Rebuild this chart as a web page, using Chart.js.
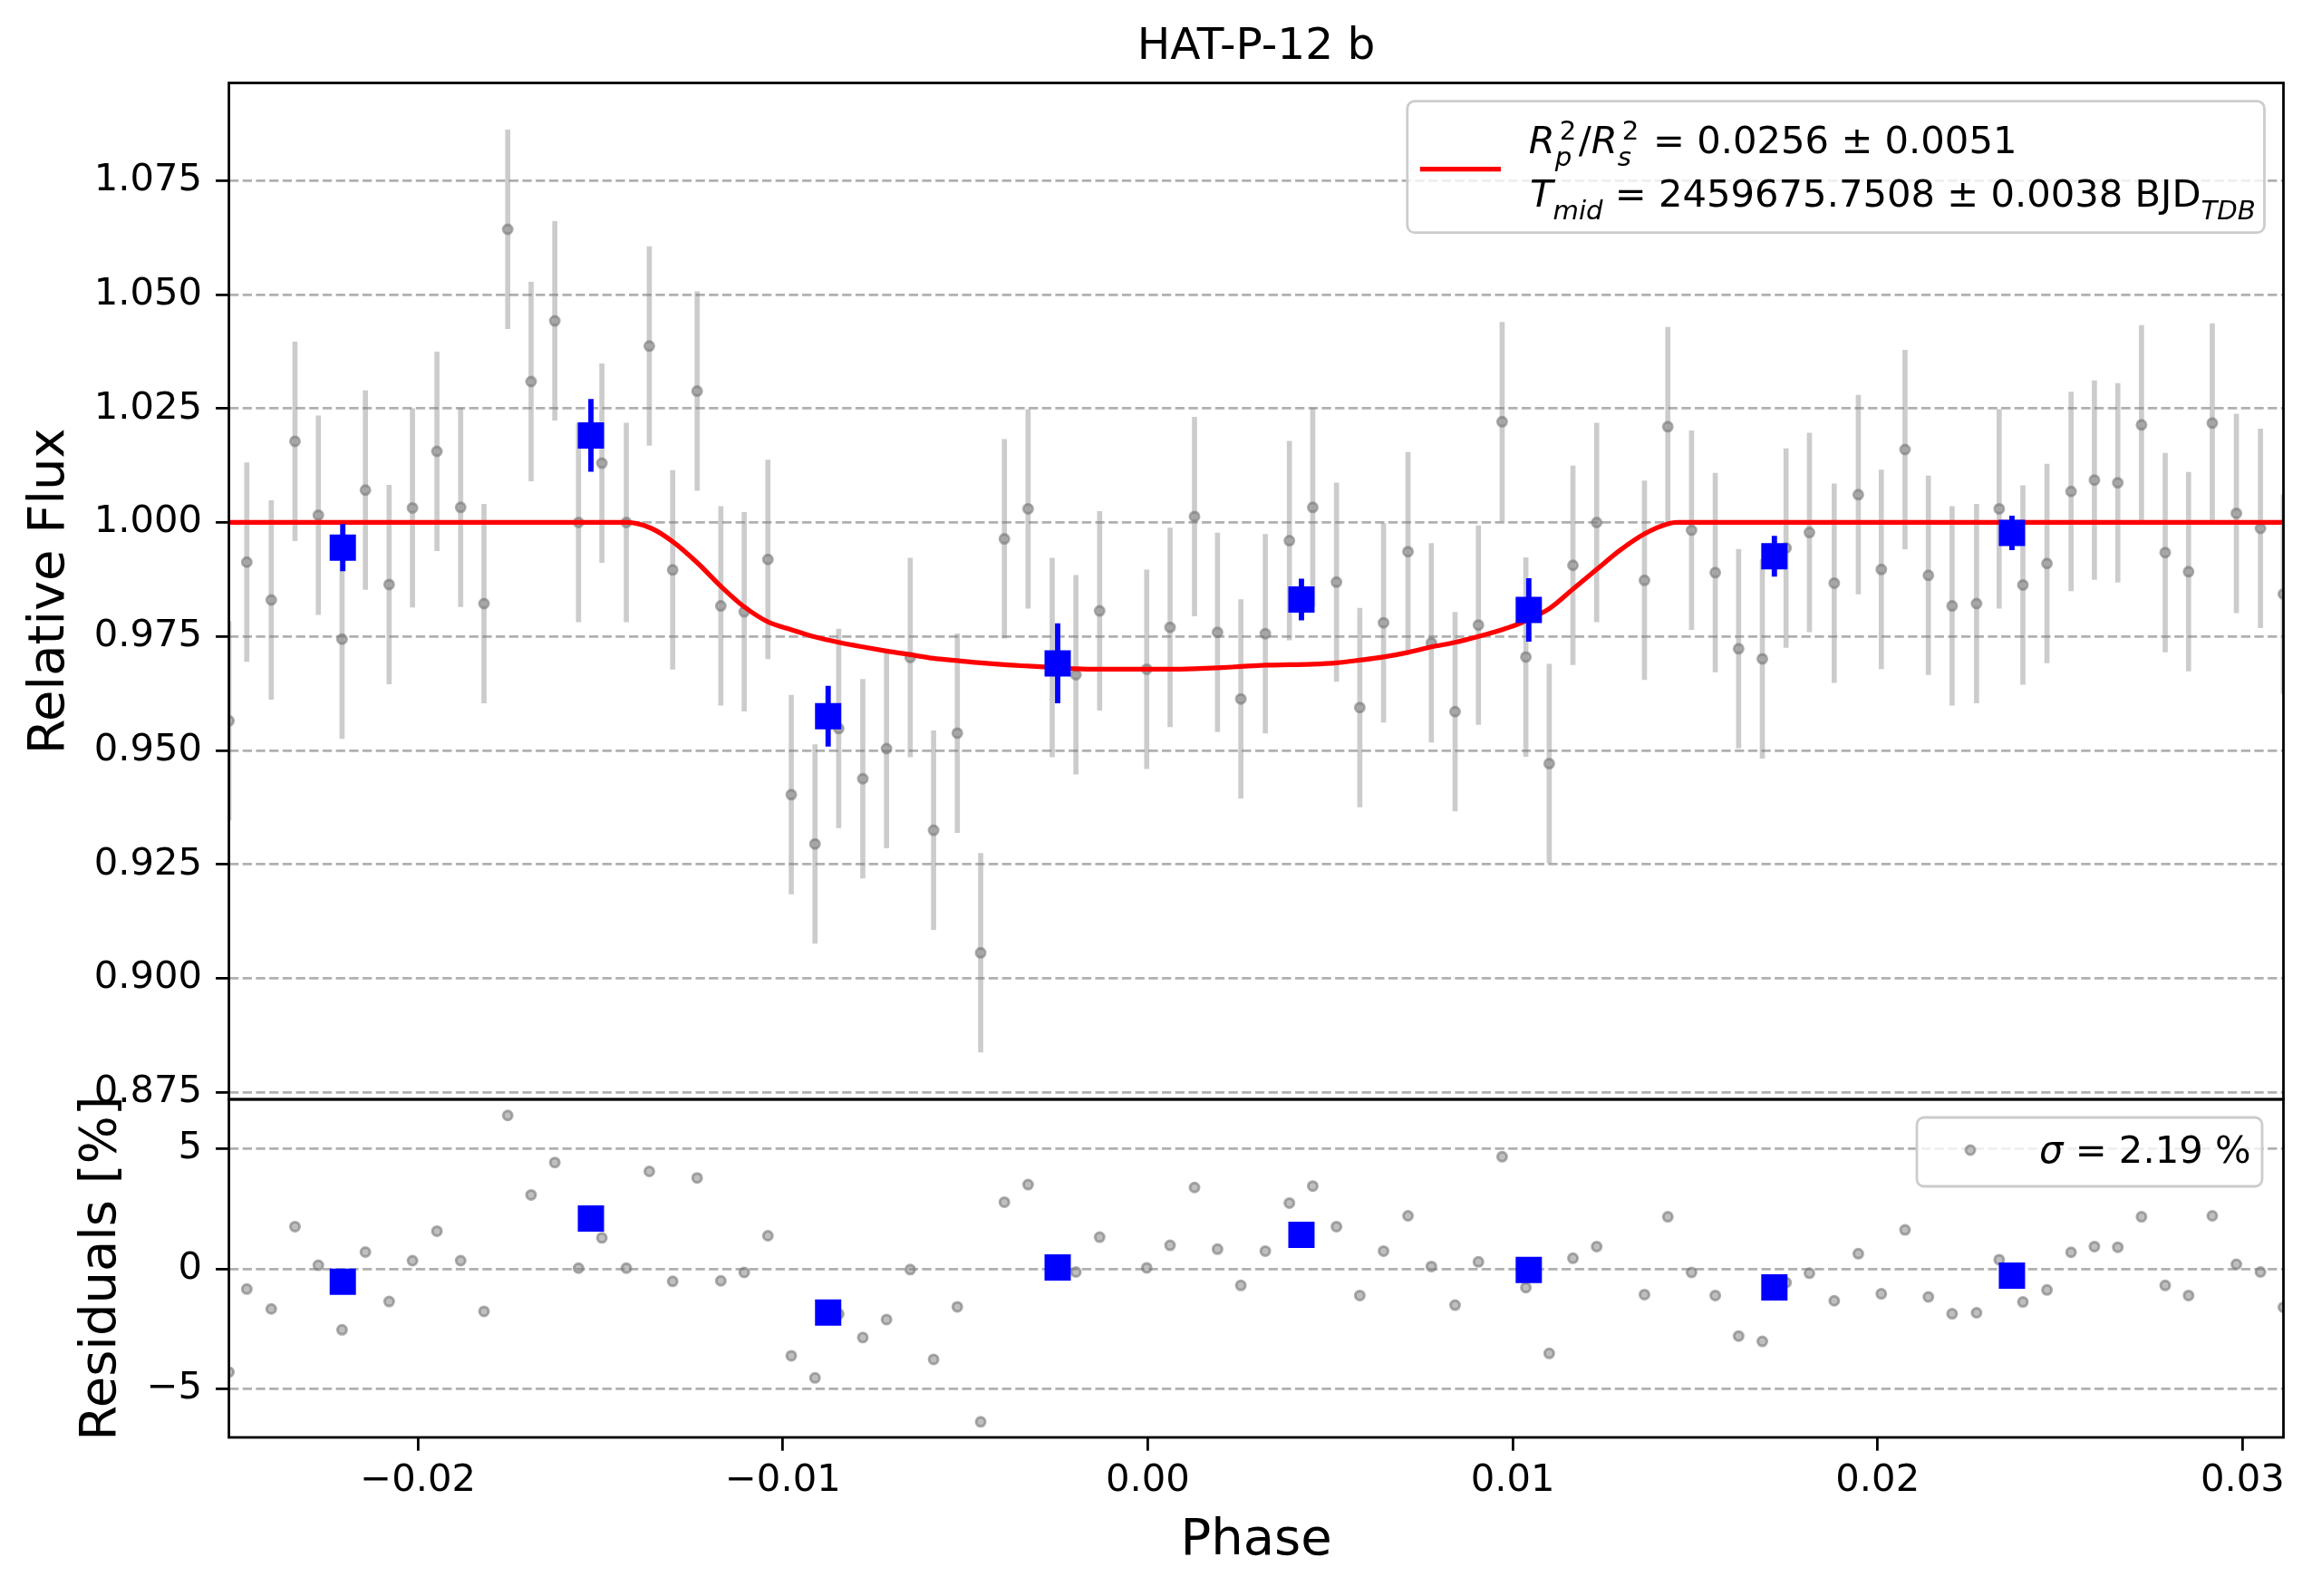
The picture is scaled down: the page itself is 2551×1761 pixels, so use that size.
<!DOCTYPE html>
<html>
<head>
<meta charset="utf-8">
<script src="https://cdn.jsdelivr.net/npm/chart.js@4.4.1/dist/chart.umd.min.js"></script>
<style>
html,body{margin:0;padding:0;background:#fff;}
#wrap{position:relative;width:2551px;height:1761px;background:#fff;overflow:hidden;}
#wrap canvas{position:absolute;left:0;top:0;}
</style>
</head>
<body>
<div id="wrap">
<canvas id="topChart" width="2551" height="1761"></canvas>
<canvas id="botChart" width="2551" height="1761"></canvas>
</div>
<script>
// ---------------- data ----------------
const phase = [-0.02518,-0.02469,-0.02402,-0.02337,-0.02273,-0.02208,-0.02144,-0.02079,-0.02015,-0.01948,
  -0.01883,-0.01819,-0.01754,-0.01690,-0.01625,-0.01560,-0.01496,-0.01429,-0.01366,-0.01302,
  -0.01235,-0.01170,-0.01106,-0.01041,-0.00977,-0.00912,-0.00847,-0.00781,-0.00716,-0.00651,
  -0.00587,-0.00522,-0.00458,-0.00393,-0.00328,-0.00262,-0.00197,-0.00132,-0.00003,0.00061,
  0.00128,0.00191,0.00255,0.00322,0.00388,0.00452,0.00517,0.00581,0.00646,0.00713,
  0.00777,0.00842,0.00906,0.00971,0.01036,0.01100,0.01165,0.01230,0.01361,0.01425,
  0.01490,0.01555,0.01619,0.01684,0.01749,0.01813,0.01881,0.01947,0.02010,0.02075,
  0.02139,0.02204,0.02271,0.02333,0.02398,0.02464,0.02530,0.02594,0.02658,0.02723,
  0.02788,0.02852,0.02917,0.02983,0.03049,0.03112];
const flux = [0.9565,0.9913,0.9830,1.0178,1.0016,0.9744,1.0071,0.9864,1.0032,1.0156,
  1.0033,0.9822,1.0643,1.0309,1.0442,1.0000,1.0130,1.0000,1.0387,0.9896,
  1.0288,0.9817,0.9804,0.9919,0.9403,0.9295,0.9548,0.9438,0.9504,0.9704,
  0.9325,0.9538,0.9056,0.9964,1.0030,0.9704,0.9666,0.9806,0.9678,0.9770,
  1.0013,0.9759,0.9613,0.9756,0.9960,1.0033,0.9869,0.9594,0.9780,0.9936,
  0.9736,0.9585,0.9775,1.0221,0.9705,0.9471,0.9906,1.0000,0.9873,1.0210,
  0.9983,0.9890,0.9723,0.9701,0.9944,0.9978,0.9867,1.0061,0.9897,1.0160,
  0.9884,0.9817,0.9822,1.0030,0.9863,0.9910,1.0068,1.0093,1.0087,1.0214,
  0.9934,0.9892,1.0218,1.0020,0.9987,0.9843];
const fluxErr = 0.0218;
const residual = [-4.30,-0.84,-1.67,1.76,0.15,-2.54,0.70,-1.36,0.34,1.57,
  0.34,-1.77,6.39,3.08,4.43,0.03,1.29,0.03,4.06,-0.52,
  3.79,-0.50,-0.15,1.38,-3.62,-4.54,-1.88,-2.86,-2.11,-0.03,
  -3.77,-1.58,-6.37,2.78,3.51,0.15,-0.13,1.32,0.04,0.98,
  3.39,0.82,-0.69,0.74,2.74,3.45,1.76,-1.11,0.74,2.21,
  0.10,-1.51,0.29,4.67,-0.78,-3.52,0.44,0.93,-1.07,2.17,
  -0.15,-1.11,-2.80,-3.02,-0.57,-0.18,-1.33,0.63,-1.04,1.62,
  -1.17,-1.87,-1.83,0.38,-1.38,-0.88,0.69,0.93,0.90,2.17,
  -0.69,-1.11,2.21,0.19,-0.13,-1.60];

const binPhase = [-0.02206,-0.01526,-0.00876,-0.00247,0.00421,0.01044,0.01717,0.02368];
const binFlux  = [0.9945,1.0191,0.9575,0.9691,0.9831,0.9808,0.9926,0.9977];
const binErr   = [0.0051,0.0079,0.0066,0.0087,0.0045,0.0069,0.0044,0.0037];
const binResid = [-0.54,2.10,-1.82,0.06,1.42,-0.05,-0.77,-0.28];

const modelPhase = [-0.02518,-0.01429,-0.01363,-0.01302,-0.01235,-0.01170,-0.01106,-0.01041,-0.00977,-0.00912,
  -0.00847,-0.00781,-0.00716,-0.00651,-0.00587,-0.00522,-0.00458,-0.00393,-0.00328,-0.00262,
  -0.00197,-0.00132,-0.00068,-0.00003,0.00061,0.00128,0.00191,0.00255,0.00322,0.00388,
  0.00452,0.00517,0.00581,0.00646,0.00713,0.00777,0.00842,0.00906,0.00971,0.01015,
  0.01036,0.01100,0.01165,0.01230,0.01294,0.01361,0.01425,0.01452,0.03112];
const modelFlux = [1.0000,1.0000,0.9988,0.9958,0.9912,0.9860,0.9815,0.9782,0.9765,0.9749,
  0.9737,0.9727,0.9718,0.9710,0.9702,0.9697,0.9692,0.9688,0.9685,0.9682,
  0.9679,0.9678,0.9678,0.9678,0.9678,0.9679,0.9681,0.9684,0.9687,0.9688,
  0.9689,0.9692,0.9698,0.9705,0.9715,0.9727,0.9737,0.9750,0.9765,0.9777,
  0.9785,0.9811,0.9854,0.9897,0.9939,0.9975,0.9997,1.0000,1.0000];

const phaseTicks = [-0.02,-0.01,0.00,0.01,0.02,0.03];
const fluxTicks  = [0.875,0.900,0.925,0.950,0.975,1.000,1.025,1.050,1.075];
const residTicks = [-5,0,5];

const titleText = 'HAT-P-12 b';
const rpRs = '0.0256', rpRsErr = '0.0051';
const tMid = '2459675.7508', tMidErr = '0.0038';
const sigmaText = '2.19';

// ---------------- styling ----------------
const FONT = '"DejaVu Sans"';
Chart.defaults.font.family = FONT;
Chart.defaults.color = '#000';

const xMin = -0.02518, xMax = 0.03112;
const fluxMin = 0.87347, fluxMax = 1.0964;
const residMin = -7.02, residMax = 7.06;
const TICK = 41.7, LABEL = 56;
const GRAY_FILL = 'rgba(128,128,128,0.5)';
const GRAY_EDGE = 'rgba(120,120,120,0.6)';
const GRAY_BAR = 'rgba(128,128,128,0.4)';
const PT_R = 5, PT_B = 3;

const fmtMinus = s => s.replace('-', '\u2212');

const spines = {
  id: 'spines',
  afterDatasetsDraw(chart) {
    const {ctx, chartArea: a} = chart;
    ctx.save();
    ctx.strokeStyle = '#000';
    ctx.lineWidth = 2.8;
    ctx.strokeRect(a.left, a.top, a.right - a.left, a.bottom - a.top);
    ctx.restore();
  }
};

function roundBox(ctx, x, y, w, h, r) {
  ctx.beginPath();
  ctx.moveTo(x + r, y);
  ctx.lineTo(x + w - r, y);
  ctx.arcTo(x + w, y, x + w, y + r, r);
  ctx.lineTo(x + w, y + h - r);
  ctx.arcTo(x + w, y + h, x + w - r, y + h, r);
  ctx.lineTo(x + r, y + h);
  ctx.arcTo(x, y + h, x, y + h - r, r);
  ctx.lineTo(x, y + r);
  ctx.arcTo(x, y, x + r, y, r);
  ctx.closePath();
  ctx.fillStyle = 'rgba(255,255,255,0.8)';
  ctx.fill();
  ctx.strokeStyle = '#cccccc';
  ctx.lineWidth = 2.8;
  ctx.stroke();
}

function drawRich(ctx, x, y, parts, size) {
  ctx.fillStyle = '#000';
  ctx.textBaseline = 'alphabetic';
  ctx.textAlign = 'left';
  for (const p of parts) {
    if ('sub' in p || 'sup' in p) {
      const s = size * 0.7;
      let w = 0;
      if (p.sub) {
        ctx.font = `italic ${s}px ${FONT}`;
        ctx.fillText(p.sub, x, y + size * 0.33);
        w = Math.max(w, ctx.measureText(p.sub).width);
      }
      if (p.sup) {
        const dx = size * 0.12;
        ctx.font = `${s}px ${FONT}`;
        ctx.fillText(p.sup, x + dx, y - size * 0.37);
        w = Math.max(w, ctx.measureText(p.sup).width + dx);
      }
      x += w + (p.sup ? size * 0.06 : 0);
    } else {
      ctx.font = `${p.i ? 'italic ' : ''}${size}px ${FONT}`;
      ctx.fillText(p.t, x, y);
      x += ctx.measureText(p.t).width;
    }
  }
}

const topLegend = {
  id: 'topLegend',
  afterDraw(chart) {
    const {ctx, chartArea: a} = chart;
    const w = 945.7, h = 145;
    const bx = a.right - 21 - w, by = a.top + 20.2;
    ctx.save();
    roundBox(ctx, bx, by, w, h, 8);
    ctx.strokeStyle = '#ff0000';
    ctx.lineWidth = 5.2;
    ctx.beginPath();
    ctx.moveTo(bx + 14, by + 75);
    ctx.lineTo(bx + 103.2, by + 75);
    ctx.stroke();
    drawRich(ctx, bx + 133.9, by + 57.5, [
      {t: 'R', i: 1}, {sub: 'p', sup: '2'}, {t: '/'}, {t: 'R', i: 1}, {sub: 's', sup: '2'},
      {t: ` = ${rpRs} \u00b1 ${rpRsErr}`}
    ], TICK);
    drawRich(ctx, bx + 135.2, by + 116.6, [
      {t: 'T', i: 1}, {sub: 'mid'}, {t: ` = ${tMid} \u00b1 ${tMidErr} BJD`}, {sub: 'TDB'}
    ], TICK);
    ctx.restore();
  }
};

const botLegend = {
  id: 'botLegend',
  afterDraw(chart) {
    const {ctx, chartArea: a} = chart;
    const w = 381, h = 76;
    const bx = a.right - 23.5 - w, by = a.top + 20;
    ctx.save();
    roundBox(ctx, bx, by, w, h, 8);
    ctx.beginPath();
    ctx.arc(bx + 59, by + 36, PT_R, 0, Math.PI * 2);
    ctx.fillStyle = GRAY_FILL;
    ctx.fill();
    ctx.lineWidth = PT_B;
    ctx.strokeStyle = GRAY_EDGE;
    ctx.stroke();
    drawRich(ctx, bx + 135, by + 50.3, [{t: '\u03c3', i: 1}, {t: ` = ${sigmaText} %`}], TICK);
    ctx.restore();
  }
};

const yGrid = {
  color: '#b0b0b0', lineWidth: 2.78, borderDash: [10.3, 4.4],
  drawTicks: true, tickLength: 14.5, tickColor: '#000', tickWidth: 2.8, tickBorderDash: []
};
const yBorder = {display: false, dash: [10.3, 4.4]};

// ---------------- top panel ----------------
new Chart(document.getElementById('topChart'), {
  type: 'scatter',
  data: {
    datasets: [
      {
        type: 'bar', label: 'err',
        data: phase.map((x, i) => ({x: x, y: [flux[i] - fluxErr, flux[i] + fluxErr]})),
        backgroundColor: GRAY_BAR, borderWidth: 0, grouped: false,
        barThickness: 5, maxBarThickness: 5, order: 5
      },
      {
        type: 'scatter', label: 'data',
        data: phase.map((x, i) => ({x: x, y: flux[i]})),
        pointRadius: PT_R, pointBorderWidth: PT_B,
        pointBackgroundColor: GRAY_FILL, pointBorderColor: GRAY_EDGE, order: 4
      },
      {
        type: 'line', label: 'model',
        data: modelPhase.map((x, i) => ({x: x, y: modelFlux[i]})),
        borderColor: '#ff0000', borderWidth: 5.2, pointRadius: 0, fill: false,
        cubicInterpolationMode: 'monotone', order: 3
      },
      {
        type: 'bar', label: 'binErr',
        data: binPhase.map((x, i) => ({x: x, y: [binFlux[i] - binErr[i], binFlux[i] + binErr[i]]})),
        backgroundColor: '#0000ff', borderWidth: 0, grouped: false,
        barThickness: 5.2, maxBarThickness: 5.2, order: 2
      },
      {
        type: 'scatter', label: 'binned',
        data: binPhase.map((x, i) => ({x: x, y: binFlux[i]})),
        pointStyle: 'rect', pointRadius: 20.5, pointBorderWidth: 0,
        pointBackgroundColor: '#0000ff', pointBorderColor: '#0000ff', order: 1
      }
    ]
  },
  options: {
    responsive: false, animation: false, devicePixelRatio: 1, events: [],
    layout: {autoPadding: false, padding: {left: 0, right: 31.5, top: 0, bottom: 548}},
    plugins: {
      legend: {display: false}, tooltip: {enabled: false},
      title: {
        display: true, text: titleText, color: '#000', fullSize: false,
        font: {size: 48.6, weight: 'normal', lineHeight: 1.2},
        padding: {top: 23.3, bottom: 9.9}
      }
    },
    scales: {
      x: {type: 'linear', display: false, min: xMin, max: xMax, offset: false},
      y: {
        type: 'linear', min: fluxMin, max: fluxMax,
        afterBuildTicks: s => { s.ticks = fluxTicks.map(v => ({value: v})); },
        afterFit: s => { s.width = 252.6; },
        ticks: {callback: v => v.toFixed(3), font: {size: TICK, lineHeight: 1.2}, color: '#000', padding: 15, autoSkip: false},
        grid: yGrid, border: yBorder,
        title: {display: true, text: 'Relative Flux', color: '#000', font: {size: LABEL, lineHeight: 1.2}, padding: {top: 21.8, bottom: 0}}
      }
    }
  },
  plugins: [spines, topLegend]
});

// ---------------- residual panel ----------------
new Chart(document.getElementById('botChart'), {
  type: 'scatter',
  data: {
    datasets: [
      {
        label: 'resid',
        data: phase.map((x, i) => ({x: x, y: residual[i]})),
        pointRadius: PT_R, pointBorderWidth: PT_B,
        pointBackgroundColor: GRAY_FILL, pointBorderColor: GRAY_EDGE, order: 2
      },
      {
        label: 'binResid',
        data: binPhase.map((x, i) => ({x: x, y: binResid[i]})),
        pointStyle: 'rect', pointRadius: 20.5, pointBorderWidth: 0,
        pointBackgroundColor: '#0000ff', pointBorderColor: '#0000ff', order: 1
      }
    ]
  },
  options: {
    responsive: false, animation: false, devicePixelRatio: 1, events: [],
    layout: {autoPadding: false, padding: {left: 0, right: 31.5, top: 1213, bottom: 0}},
    plugins: {legend: {display: false}, tooltip: {enabled: false}, title: {display: false}},
    scales: {
      x: {
        type: 'linear', min: xMin, max: xMax, offset: false,
        afterBuildTicks: s => { s.ticks = phaseTicks.map(v => ({value: v})); },
        afterFit: s => { s.height = 175; },
        ticks: {callback: v => fmtMinus(v.toFixed(2)), font: {size: TICK, lineHeight: 1.2}, color: '#000', padding: 8.2, maxRotation: 0, autoSkip: false},
        grid: {drawOnChartArea: false, drawTicks: true, tickLength: 14.7, tickColor: '#000', tickWidth: 2.8, color: '#000', lineWidth: 2.8},
        border: {display: false},
        title: {display: true, text: 'Phase', color: '#000', font: {size: LABEL, lineHeight: 1.2}, padding: {top: 0, bottom: 26.8}}
      },
      y: {
        type: 'linear', min: residMin, max: residMax,
        afterBuildTicks: s => { s.ticks = residTicks.map(v => ({value: v})); },
        afterFit: s => { s.width = 252.6; },
        ticks: {callback: v => fmtMinus(String(v)), font: {size: TICK, lineHeight: 1.2}, color: '#000', padding: 15, autoSkip: false},
        grid: yGrid, border: yBorder,
        title: {display: true, text: 'Residuals [%]', color: '#000', font: {size: LABEL, lineHeight: 1.2}, padding: {top: 78.8, bottom: 0}}
      }
    }
  },
  plugins: [spines, botLegend]
});
</script>
</body>
</html>
